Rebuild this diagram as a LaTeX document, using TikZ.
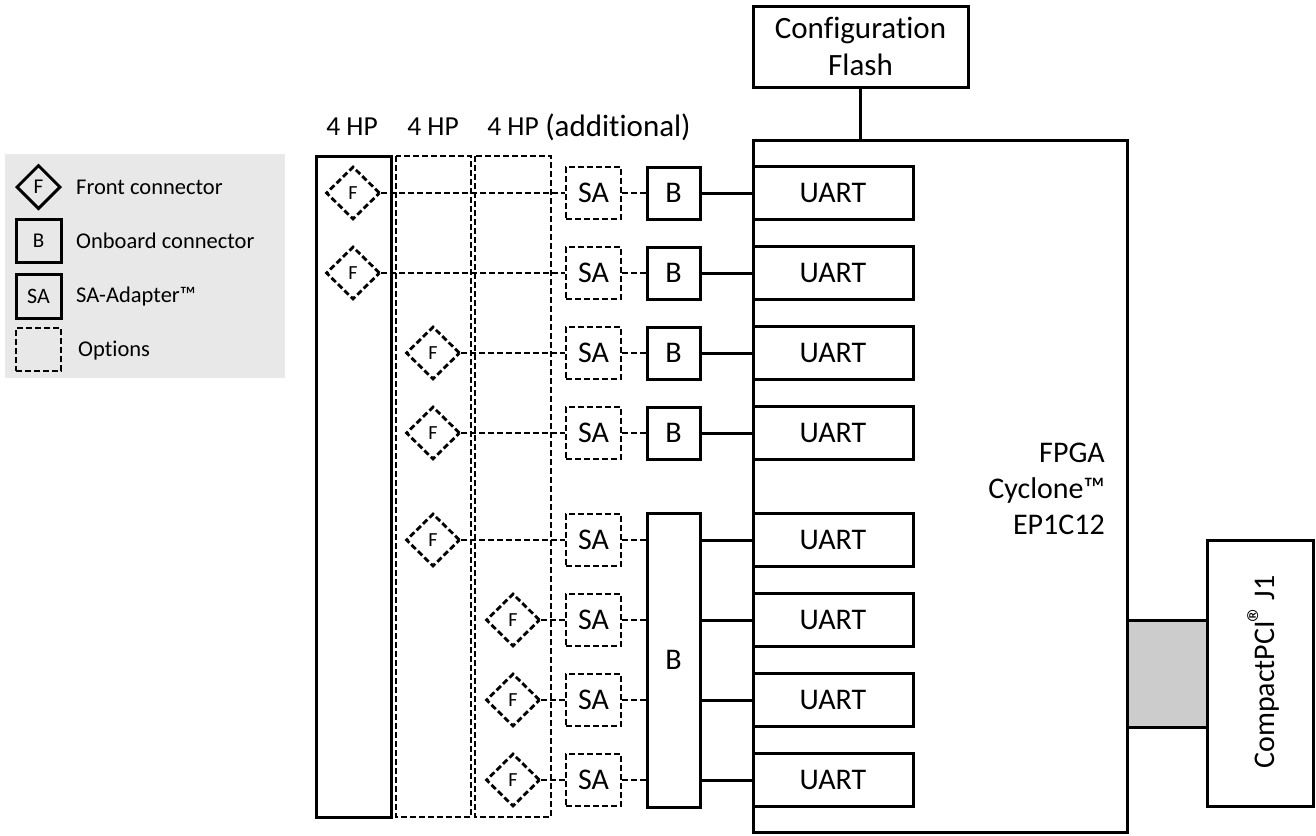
\documentclass[tikz,border=0pt]{standalone}
\usepackage{fontspec}
\setmainfont{Carlito}[Ligatures={NoCommon}]
\usetikzlibrary{shapes.geometric}
\begin{document}
\begin{tikzpicture}[x=1pt,y=-1pt,
  solidline/.style={line width=3pt},
  dashline/.style={line width=2.8pt, dash pattern=on 6pt off 3pt},
  box/.style={draw, solidline, inner sep=0pt, font=\fontsize{30}{36}\selectfont},
  optbox/.style={draw, dashline, inner sep=0pt, font=\fontsize{30}{36}\selectfont},
  fdia/.style={diamond, draw, dashline, minimum width=54pt, minimum height=53pt, inner sep=0pt, font=\fontsize{20}{24}\selectfont},
  sabox/.style={optbox, minimum width=55pt, minimum height=52pt},
  bbox/.style={box, minimum width=53pt, minimum height=52pt},
  uart/.style={box, minimum width=160pt, minimum height=53pt},
  lgtext/.style={anchor=west, inner sep=0pt, font=\fontsize{22.5}{26}\selectfont},
  hdr/.style={inner sep=0pt, font=\fontsize{27.5}{32}\selectfont},
  conn/.style={solidline},
  optconn/.style={dashline}
]
\useasboundingbox (0,0) rectangle (1316,835);

% legend
\fill[gray!18] (5,154) rectangle (285,378);
\node[diamond, draw, solidline, minimum width=44pt, minimum height=44pt, inner sep=0pt, font=\fontsize{21}{24}\selectfont] (lgF) at (38.5,187) {F};
\node[draw, solidline, minimum width=45pt, minimum height=43pt, inner sep=0pt, font=\fontsize{21}{24}\selectfont] (lgB) at (38.5,240.5) {B};
\node[draw, solidline, minimum width=45pt, minimum height=44pt, inner sep=0pt, font=\fontsize{22}{24}\selectfont] (lgSA) at (38.5,296) {SA};
\node[draw, dashline, minimum width=45pt, minimum height=43pt, inner sep=0pt] (lgO) at (38.5,349.5) {};
\node[lgtext] (lgFt) at (76,187) {Front connector};
\node[lgtext] (lgBt) at (76,240.5) {Onboard connector};
\node[lgtext] (lgSAt) at (76,296) {SA-Adapter™};
\node[lgtext] (lgOt) at (78,351) {Options};

% headers
\node[hdr] (h1) at (352,127) {4 HP};
\node[hdr] (h2) at (433,127) {4 HP};
\node[hdr] (h3) at (513,127) {4 HP};
\node[hdr, font=\fontsize{31}{35}\selectfont] (h4) at (618,127) {(additional)};

% front panels
\draw[solidline] (316,156) rectangle (391,817);
\draw[dashline] (396,156) rectangle (471,817);
\draw[dashline] (475,156) rectangle (551,817);

% FPGA and config flash
\draw[solidline] (753,140) rectangle (1127,832);
\coordinate (fpgatop) at (860.5,140);
\node[box, minimum width=215pt, minimum height=81pt, align=center, font=\fontsize{31}{37}\selectfont] (flash) at (860.5,46.5) {Configuration\\Flash};
\draw[conn] (flash.south) -- (fpgatop);
\node[anchor=east, align=right, inner sep=0pt, font=\fontsize{30}{36}\selectfont] (fpga) at (1105,489) {FPGA\\Cyclone™\\EP1C12};

% CompactPCI
\node[draw, solidline, fill=gray!40, minimum width=80pt, minimum height=107pt, inner sep=0pt] (cpcon) at (1167,673.5) {};
\node[box, minimum width=106pt, minimum height=266pt] (cpci) at (1260,673) {};
\node[rotate=90, inner sep=0pt, font=\fontsize{30}{36}\selectfont] (cpcit) at (1263,672) {CompactPCI\kern-1pt\raisebox{2pt}{\fontsize{36}{36}\selectfont ®}\kern-3pt{} J1};

% rows
\foreach \i/\y/\fx in {1/193/353, 2/273/353, 3/353/433, 4/433/433, 5/540/433, 6/620/513, 7/700/513, 8/780/513} {
  \node[fdia] (F\i) at (\fx,\y) {F};
  \node[sabox] (SA\i) at (593.5,\y) {SA};
  \node[uart] (U\i) at (833,\y) {UART};
  \draw[optconn] (F\i.east) -- (SA\i.west);
}
\foreach \i/\y in {1/193, 2/273, 3/353, 4/433} {
  \node[bbox] (B\i) at (673.5,\y) {B};
  \draw[optconn] (SA\i.east) -- (B\i.west);
  \draw[conn] (B\i.east) -- (U\i.west);
}
\node[box, minimum width=53pt, minimum height=294pt] (BB) at (673.5,660) {B};
\foreach \i in {5,6,7,8} {
  \draw[optconn] (SA\i.east) -- (BB.west |- SA\i.east);
  \draw[conn] (BB.east |- U\i.west) -- (U\i.west);
}
\end{tikzpicture}
\end{document}
